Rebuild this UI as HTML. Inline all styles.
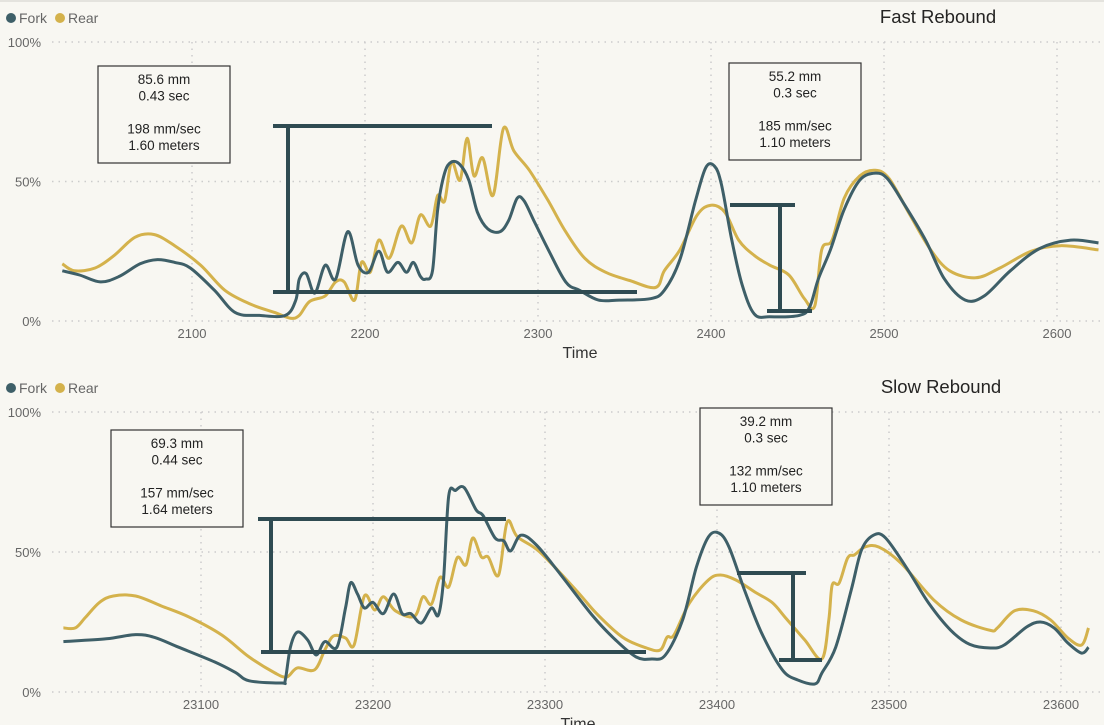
<!DOCTYPE html>
<html><head><meta charset="utf-8"><style>
html,body{margin:0;padding:0;background:#f8f7f2;}
svg{display:block;font-family:"Liberation Sans",sans-serif;}
</style></head><body>
<svg id="chart" width="1104" height="725" viewBox="0 0 1104 725">
<rect x="0" y="0" width="1104" height="725" fill="#f8f7f2"/>
<line x1="0" y1="1" x2="1104" y2="1" stroke="#e4e3de" stroke-width="2"/>
</svg>
<script>
// ---- Top panel (Fast Rebound) data ----
const fastForkX=[2025,2035,2047,2058,2070,2080,2090,2099,2113,2125,2139,2154,2160,2162,2166,2171,2177,2183,2190,2196,2202,2208,2213,2219,2224,2228,2232,2235,2239,2242,2246,2250,2255,2260,2265,2271,2278,2283,2288,2292,2298,2306,2316,2324,2335,2347,2365,2373,2382,2391,2397,2402,2406,2412,2418,2425,2434,2451,2457,2462,2469,2477,2486,2495,2502,2512,2524,2535,2547,2558,2573,2590,2608,2624];
const fastForkY=[18,16.5,14,16,20.5,22,21,19,11,3,2,2,7.5,15,17,10,20,15,32,20,17.5,25,17.5,21,17.5,21,16,15,18,40,53,57,56,50.5,39,33,32,36,44,43,35.5,25.5,14,11,7.5,7.5,8,11,22,43,55,55.5,49,29,13,2.5,1.5,2,5,15,25.5,40,50.5,53,51,41.5,29,15,7.5,9,18,26,29,28];
const fastRearX=[2025,2032,2044,2055,2067,2078,2090,2105,2119,2134,2148,2157,2162,2168,2177,2183,2188,2194,2198,2203,2208,2214,2221,2227,2232,2238,2242,2246,2250,2255,2259,2263,2268,2274,2280,2286,2295,2306,2316,2327,2339,2353,2368,2373,2382,2392,2400,2408,2416,2425,2434,2445,2454,2460,2464,2470,2477,2486,2495,2503,2515,2527,2538,2553,2567,2585,2602,2624];
const fastRearY=[20.5,18,19,23.5,30,31,27,20,11,6,3,1,2,7,9,14,14,7.5,21,17.5,29,22.5,34,28,38,34,45,43,57,50.5,65.5,52,58.5,45,69,61,54,43,32,22.5,17.5,14.5,12,18,25.5,38,41.5,39,29,23.5,20,16.5,8,5.5,25.5,29,44,52,54,51,38,25.5,18,15.5,19,25,27,25.5];
const fastTicks=[2100,2200,2300,2400,2500,2600];
// ---- Bottom panel (Slow Rebound) data ----
const slowForkX=[23020,23045,23062,23073,23087,23108,23120,23128,23147,23149,23152,23156,23162,23167,23172,23179,23184,23187,23191,23195,23200,23206,23212,23217,23222,23228,23234,23238,23241,23244,23248,23253,23260,23264,23271,23276,23280,23286,23295,23309,23328,23341,23353,23362,23370,23380,23388,23395,23401,23407,23416,23426,23438,23447,23457,23461,23469,23478,23484,23491,23498,23511,23523,23536,23547,23559,23567,23580,23588,23596,23604,23612,23616];
const slowForkY=[18,19,20.5,19.5,16,10.7,7,4,3.2,4.3,16,21.4,18.6,13.2,18,16,30,39,35,30,32,28,35,28,28,24.6,30,27.5,40,70,72,73,65,63,55,54,50.4,56,52.5,42,27,18.6,12.5,11.8,13.2,25.7,44.6,55.4,56.8,51.8,36.4,21,7.9,4.3,2.9,6.8,16,36.4,50.7,56,55,43.6,31.8,22,17,15.7,16.8,23.2,25,22.9,17.5,13.9,16];
const slowRearX=[23020,23027,23033,23041,23049,23062,23077,23093,23112,23128,23143,23150,23156,23166,23172,23177,23184,23189,23195,23201,23206,23213,23224,23229,23234,23239,23244,23249,23254,23258,23263,23267,23273,23278,23284,23297,23318,23330,23345,23359,23367,23371,23375,23384,23395,23402,23411,23422,23432,23440,23451,23461,23465,23467,23471,23476,23480,23486,23494,23507,23526,23542,23559,23563,23573,23584,23594,23604,23612,23616];
const slowRearY=[22.9,22.9,26.8,32,34.3,34.3,30.7,26.8,20.4,12.5,6.8,5.4,8.6,7.9,15,20,19.3,16.8,34.3,29.3,34,29,27,34,31.4,41,37.5,48,45.4,55,48.2,48.2,41.8,60.7,55.4,50,36.4,28,19.6,15.7,15,19.6,20.4,31.8,40,41.8,40,35.7,32,26.4,18.6,11.8,25.7,38.2,38.9,47.9,49,51.8,51.8,46,32.9,25.7,22,22.9,29,29,25.7,19.3,16.8,22.9];
const slowTicks=[23100,23200,23300,23400,23500,23600];
const yTicks=[0,50,100];
const yTickLabels=["0%","50%","100%"];

const NS="http://www.w3.org/2000/svg";
const svg=document.getElementById('chart');
function mk(tag,attrs,parent){const e=document.createElementNS(NS,tag);for(const k in attrs)e.setAttribute(k,attrs[k]);(parent||svg).appendChild(e);return e;}
function smooth(pts){let d="M"+pts[0][0].toFixed(1)+","+pts[0][1].toFixed(1);
 for(let i=0;i<pts.length-1;i++){const p0=pts[Math.max(0,i-1)],p1=pts[i],p2=pts[i+1],p3=pts[Math.min(pts.length-1,i+2)];
 const c1=[p1[0]+(p2[0]-p0[0])/6,p1[1]+(p2[1]-p0[1])/6],c2=[p2[0]-(p3[0]-p1[0])/6,p2[1]-(p3[1]-p1[1])/6];
 d+=" C"+c1[0].toFixed(1)+","+c1[1].toFixed(1)+" "+c2[0].toFixed(1)+","+c2[1].toFixed(1)+" "+p2[0].toFixed(1)+","+p2[1].toFixed(1);}
 return d;}

function panel(cfg){
 const g=mk('g',{});
 
 
 const xs=v=>cfg.x0px+(v-cfg.x0)*cfg.pxPer;
 const ys=p=>cfg.y0px-p*(cfg.y0px-cfg.y100px)/100;
 const lg=mk('g',{},g);
 
 
 const c1=mk('circle',{cx:11,cy:cfg.legendY,r:5,fill:'#3e5f68'},lg);
 
 
 const t1=mk('text',{x:19,y:cfg.legendY+5,'font-size':14,fill:'#666'},lg);t1.textContent='Fork';
 
 
 const c2=mk('circle',{cx:60,cy:cfg.legendY,r:5,fill:'#d4b24c'},lg);
 
 
 const t2=mk('text',{x:68,y:cfg.legendY+5,'font-size':14,fill:'#666'},lg);t2.textContent='Rear';
 
 
 const tt=mk('text',{x:cfg.titleX,y:cfg.titleY,'font-size':18.5,fill:'#252423','text-anchor':'middle'},g);tt.textContent=cfg.title;
 
 
 yTicks.forEach((v,i)=>{
  const l=mk('line',{x1:52,x2:1104,y1:ys(v),y2:ys(v),stroke:'#ccc','stroke-dasharray':'1.5,5','stroke-width':1.5},g);
  
  
  const t=mk('text',{x:41,y:ys(v)+5,'font-size':13,fill:'#666','text-anchor':'end'},g);t.textContent=yTickLabels[i];
  
  
 });
 cfg.ticks.forEach(v=>{
  const l=mk('line',{x1:xs(v),x2:xs(v),y1:cfg.y100px,y2:cfg.y0px,stroke:'#ccc','stroke-dasharray':'1.5,5','stroke-width':1.5},g);
  
  
  const t=mk('text',{x:xs(v),y:cfg.y0px+17,'font-size':13,fill:'#666','text-anchor':'middle'},g);t.textContent=v;
  
  
 });
 const xt=mk('text',{x:cfg.timeX,y:cfg.y0px+37,'font-size':16,fill:'#333','text-anchor':'middle'},g);xt.textContent='Time';
 
 
 const rp=mk('path',{d:smooth(cfg.rearX.map((x,i)=>[xs(x),ys(cfg.rearY[i])])),fill:'none',stroke:'#d4b24c','stroke-width':3,'stroke-linejoin':'round'},g);
 
 
 const fp=mk('path',{d:smooth(cfg.forkX.map((x,i)=>[xs(x),ys(cfg.forkY[i])])),fill:'none',stroke:'#3e5f68','stroke-width':3,'stroke-linejoin':'round'},g);
 
 
 cfg.brackets.forEach(b=>{
  const bg=mk('g',{stroke:'#2f4b52','stroke-width':4},g);
  
  
  mk('line',{x1:b.tx1,x2:b.tx2,y1:b.ty,y2:b.ty},bg);
  mk('line',{x1:b.vx,x2:b.vx,y1:b.ty,y2:b.by},bg);
  mk('line',{x1:b.bx1,x2:b.bx2,y1:b.by,y2:b.by},bg);
 });
 cfg.boxes.forEach(bx=>{
  const bgp=mk('g',{},g);
  
  
  mk('rect',{x:bx.x,y:bx.y,width:132,height:97,fill:'#f8f7f2',stroke:'#333','stroke-width':1.2},bgp);
  bx.lines.forEach((s,i)=>{ if(!s)return;
   const t=mk('text',{x:bx.x+66,y:bx.y+18+i*16.5,'font-size':13.5,fill:'#222','text-anchor':'middle'},bgp);t.textContent=s;});
 });
}
panel({name:'fast-rebound-panel',title:'Fast Rebound',titleX:938,titleY:23,legendY:18,x0:2100,x0px:192,pxPer:1.73,y0px:321,y100px:42,ticks:fastTicks,timeX:580,
 forkX:fastForkX,forkY:fastForkY,rearX:fastRearX,rearY:fastRearY,
 brackets:[{name:'bracket-large',tx1:273,tx2:492,ty:126,vx:288,by:292,bx1:273,bx2:637},{name:'bracket-small',tx1:730,tx2:795,ty:205,vx:780,by:311,bx1:767,bx2:812}],
 boxes:[{name:'annotation-box-left',x:98,y:66,lines:['85.6 mm','0.43 sec','','198 mm/sec','1.60 meters']},{name:'annotation-box-right',x:729,y:63,lines:['55.2 mm','0.3 sec','','185 mm/sec','1.10 meters']}]});
panel({name:'slow-rebound-panel',title:'Slow Rebound',titleX:941,titleY:393,legendY:388,x0:23100,x0px:201,pxPer:1.72,y0px:692,y100px:412,ticks:slowTicks,timeX:578,
 forkX:slowForkX,forkY:slowForkY,rearX:slowRearX,rearY:slowRearY,
 brackets:[{name:'bracket-large',tx1:258,tx2:506,ty:519,vx:271,by:652,bx1:261,bx2:646},{name:'bracket-small',tx1:737,tx2:806,ty:573,vx:793,by:660,bx1:779,bx2:822}],
 boxes:[{name:'annotation-box-left',x:111,y:430,lines:['69.3 mm','0.44 sec','','157 mm/sec','1.64 meters']},{name:'annotation-box-right',x:700,y:408,lines:['39.2 mm','0.3 sec','','132 mm/sec','1.10 meters']}]});
</script>
</body></html>
